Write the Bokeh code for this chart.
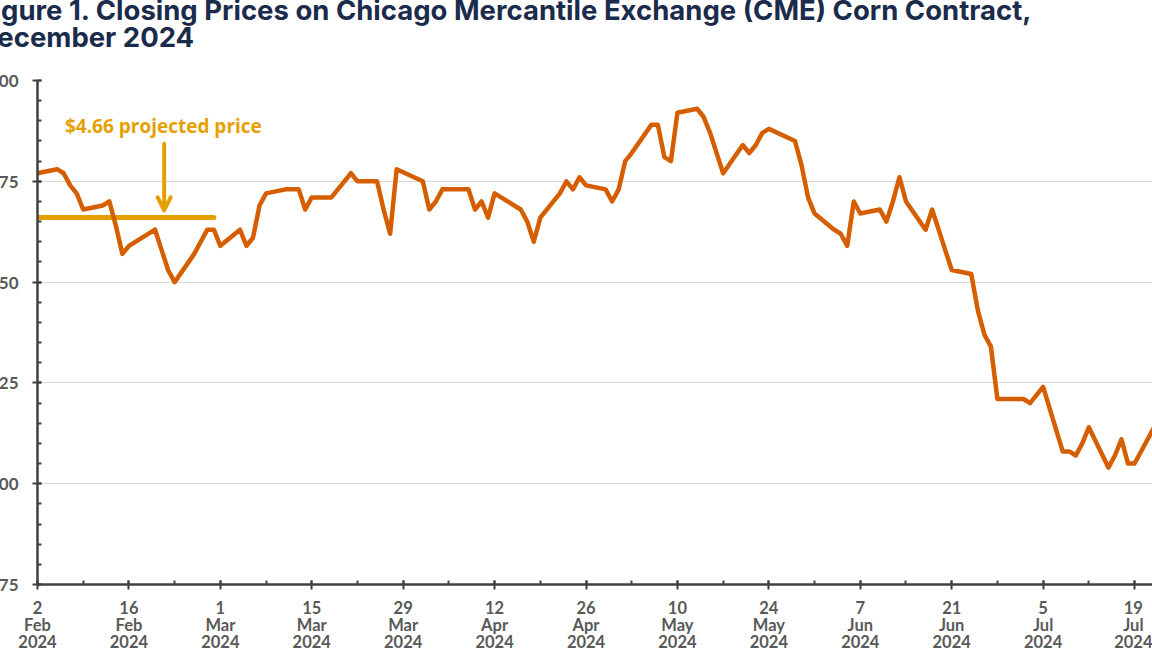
import numpy as np
import pandas as pd
from bokeh.plotting import figure
from bokeh.models import (Range1d, FixedTicker, NumeralTickFormatter, Label,
                          Arrow, OpenHead, ColumnDataSource)
from bokeh.embed import file_html
from bokeh.resources import INLINE

# ---------------- data ----------------
dates = [
    "2024-02-02", "2024-02-05", "2024-02-06", "2024-02-07", "2024-02-08", "2024-02-09",
    "2024-02-12", "2024-02-13", "2024-02-14", "2024-02-15", "2024-02-16",
    "2024-02-20", "2024-02-21", "2024-02-22", "2024-02-23",
    "2024-02-26", "2024-02-27", "2024-02-28", "2024-02-29", "2024-03-01",
    "2024-03-04", "2024-03-05", "2024-03-06", "2024-03-07", "2024-03-08",
    "2024-03-11", "2024-03-12", "2024-03-13", "2024-03-14", "2024-03-15",
    "2024-03-18", "2024-03-19", "2024-03-20", "2024-03-21", "2024-03-22",
    "2024-03-25", "2024-03-26", "2024-03-27", "2024-03-28",
    "2024-04-01", "2024-04-02", "2024-04-03", "2024-04-04", "2024-04-05",
    "2024-04-08", "2024-04-09", "2024-04-10", "2024-04-11", "2024-04-12",
    "2024-04-15", "2024-04-16", "2024-04-17", "2024-04-18", "2024-04-19",
    "2024-04-22", "2024-04-23", "2024-04-24", "2024-04-25", "2024-04-26",
    "2024-04-29", "2024-04-30", "2024-05-01", "2024-05-02", "2024-05-03",
    "2024-05-06", "2024-05-07", "2024-05-08", "2024-05-09", "2024-05-10",
    "2024-05-13", "2024-05-14", "2024-05-15", "2024-05-16", "2024-05-17",
    "2024-05-20", "2024-05-21", "2024-05-22", "2024-05-23", "2024-05-24",
    "2024-05-28", "2024-05-29", "2024-05-30", "2024-05-31",
    "2024-06-03", "2024-06-04", "2024-06-05", "2024-06-06", "2024-06-07",
    "2024-06-10", "2024-06-11", "2024-06-12", "2024-06-13", "2024-06-14",
    "2024-06-17", "2024-06-18", "2024-06-20", "2024-06-21",
    "2024-06-24", "2024-06-25", "2024-06-26", "2024-06-27", "2024-06-28",
    "2024-07-01", "2024-07-02", "2024-07-03", "2024-07-05",
    "2024-07-08", "2024-07-09", "2024-07-10", "2024-07-11", "2024-07-12",
    "2024-07-15", "2024-07-16", "2024-07-17", "2024-07-18", "2024-07-19",
    "2024-07-22",
]
prices = [
    4.77, 4.78, 4.77, 4.74, 4.72, 4.68,
    4.69, 4.70, 4.64, 4.57, 4.59,
    4.63, 4.58, 4.53, 4.50,
    4.57, 4.60, 4.63, 4.63, 4.59,
    4.63, 4.59, 4.61, 4.69, 4.72,
    4.73, 4.73, 4.73, 4.68, 4.71,
    4.71, 4.73, 4.75, 4.77, 4.75,
    4.75, 4.68, 4.62, 4.78,
    4.75, 4.68, 4.70, 4.73, 4.73,
    4.73, 4.68, 4.70, 4.66, 4.72,
    4.69, 4.68, 4.65, 4.60, 4.66,
    4.72, 4.75, 4.73, 4.76, 4.74,
    4.73, 4.70, 4.73, 4.80, 4.82,
    4.89, 4.89, 4.81, 4.80, 4.92,
    4.93, 4.91, 4.87, 4.82, 4.77,
    4.84, 4.82, 4.84, 4.87, 4.88,
    4.85, 4.79, 4.71, 4.67,
    4.63, 4.62, 4.59, 4.70, 4.67,
    4.68, 4.65, 4.70, 4.76, 4.70,
    4.63, 4.68, 4.58, 4.53,
    4.52, 4.43, 4.37, 4.34, 4.21,
    4.21, 4.21, 4.20, 4.24,
    4.08, 4.08, 4.07, 4.10, 4.14,
    4.04, 4.07, 4.11, 4.05, 4.05,
    4.14,
]
tick_dates = ["2024-02-02", "2024-02-16", "2024-03-01", "2024-03-15", "2024-03-29",
              "2024-04-12", "2024-04-26", "2024-05-10", "2024-05-24", "2024-06-07",
              "2024-06-21", "2024-07-05", "2024-07-19"]
tick_labels = ["2\nFeb\n2024", "16\nFeb\n2024", "1\nMar\n2024", "15\nMar\n2024",
               "29\nMar\n2024", "12\nApr\n2024", "26\nApr\n2024", "10\nMay\n2024",
               "24\nMay\n2024", "7\nJun\n2024", "21\nJun\n2024", "5\nJul\n2024",
               "19\nJul\n2024"]
y_ticks = [3.75, 4.00, 4.25, 4.50, 4.75, 5.00]
projected_price = 4.66
projected_dates = ["2024-02-02", "2024-02-29"]
projected_text = "$4.66 projected price"
title_text = ("Figure 1. Closing Prices on Chicago Mercantile Exchange (CME) Corn Contract,\n"
              "December 2024")

# ---------------- helpers ----------------
base = pd.Timestamp(dates[0])
def day_offset(d):
    return (pd.Timestamp(d) - base).days

x_vals = [day_offset(d) for d in dates]
x_ticks = [day_offset(d) for d in tick_dates]

LINE_COLOR = "#D55E00"
GOLD = "#E69F00"
AXIS_COLOR = "#404040"
LABEL_COLOR = "#595959"
TITLE_COLOR = "#1B2B4B"

SHIFT_X = 33
SHIFT_Y = 50
FRAME_LEFT = 70
FRAME_TOP = 130

p = figure(width=1152 + SHIFT_X, height=648 + SHIFT_Y + 6,
           x_range=Range1d(0, 170.75), y_range=Range1d(3.75, 5.00),
           output_backend="svg", toolbar_location=None,
           min_border_left=FRAME_LEFT, min_border_right=0,
           min_border_top=FRAME_TOP, min_border_bottom=0)
p.styles = {"margin-left": f"-{SHIFT_X}px", "margin-top": f"-{SHIFT_Y}px"}
p.outline_line_color = None
p.background_fill_color = "white"
p.border_fill_color = "white"

# title (two lines)
p.title.text = title_text
p.title.text_font = "Inter"
p.title.text_font_style = "bold"
p.title.text_font_size = "27.5px"
p.title.text_color = TITLE_COLOR
p.title.text_line_height = 0.8
p.title.align = "left"
p.title.offset = 10 - FRAME_LEFT
p.title.standoff = 52

# grid
p.xgrid.grid_line_color = None
p.ygrid.grid_line_color = "#D9D9D9"
p.ygrid.grid_line_width = 1

# x axis
xt = FixedTicker(ticks=x_ticks, minor_ticks=list(range(0, 175, 7)))
p.xaxis.ticker = xt
p.xgrid.ticker = xt
p.xaxis.major_label_overrides = {k: v for k, v in zip(x_ticks, tick_labels)}
# y axis
yt = FixedTicker(ticks=y_ticks, minor_ticks=[round(3.75 + 0.05 * i, 2) for i in range(26)])
p.yaxis.ticker = yt
p.ygrid.ticker = yt
p.yaxis.formatter = NumeralTickFormatter(format="$0.00")

for ax in (p.xaxis, p.yaxis):
    ax.axis_line_color = AXIS_COLOR
    ax.axis_line_width = 2.5
    ax.major_tick_line_color = AXIS_COLOR
    ax.major_tick_line_width = 2
    ax.minor_tick_line_color = AXIS_COLOR
    ax.minor_tick_line_width = 2
    ax.major_tick_in = 4
    ax.major_tick_out = 5
    ax.minor_tick_in = 4
    ax.minor_tick_out = 0
    ax.major_label_text_font = "Lato"
    ax.major_label_text_font_style = "bold"
    ax.major_label_text_color = LABEL_COLOR
p.xaxis.major_label_text_font_size = "16.5px"
p.yaxis.major_label_text_font_size = "17px"
p.xaxis.major_label_standoff = 8
p.xaxis.major_label_text_line_height = 0.86
p.yaxis.major_label_standoff = 14

# projected price line
proj_x = [day_offset(d) for d in projected_dates]
p.line(proj_x, [projected_price, projected_price], line_color=GOLD, line_width=5,
       line_cap="round")

# price line
src = ColumnDataSource(dict(x=x_vals, price=prices))
p.line("x", "price", source=src, line_color=LINE_COLOR, line_width=4.5,
       line_join="round", line_cap="round")

# annotation
p.add_layout(Label(x=4.2, y=4.888, text=projected_text, text_font="Open Sans",
                   text_font_style="bold", text_font_size="19px", text_color=GOLD,
                   text_baseline="middle"))
p.add_layout(Arrow(end=OpenHead(size=13, line_color=GOLD, line_width=4,
                                line_cap="round", line_join="round"),
                   x_start=19.4, y_start=4.843, x_end=19.4, y_end=4.678,
                   line_color=GOLD, line_width=4, line_cap="round"))

open("out.html", "w").write(file_html(p, INLINE))
